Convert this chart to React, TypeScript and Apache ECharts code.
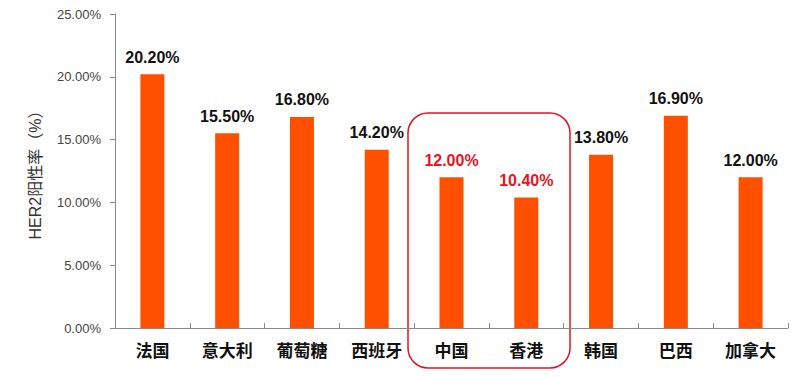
import React, { useEffect, useRef } from "react";
import * as echarts from "echarts";

const categories = ["法国", "意大利", "葡萄糖", "西班牙", "中国", "香港", "韩国", "巴西", "加拿大"];
const values = [20.2, 15.5, 16.8, 14.2, 12.0, 10.4, 13.8, 16.9, 12.0];
const highlighted = ["中国", "香港"];
const yTicks = [0, 5, 10, 15, 20, 25];

const FONT = "'Liberation Sans', 'Noto Sans CJK SC', sans-serif";

export default function App() {
  const ref = useRef<HTMLDivElement>(null);
  useEffect(() => {
    document.body.style.margin = "0";
    const chart = echarts.init(ref.current!, null, { renderer: "svg" });
    chart.setOption({
      animation: false,
      backgroundColor: "#ffffff",
      grid: { left: 115, right: 12, top: 14, bottom: 49 },
      xAxis: {
        type: "category",
        data: categories,
        axisLine: { lineStyle: { color: "#888888", width: 1 } },
        axisTick: { show: true, inside: true, length: 5, lineStyle: { color: "#888888" } },
        axisLabel: {
          color: "#111111",
          fontSize: 17,
          fontWeight: "bold",
          fontFamily: "'Noto Sans CJK SC', sans-serif",
          margin: 13,
        },
      },
      yAxis: {
        type: "value",
        min: yTicks[0],
        max: yTicks[yTicks.length - 1],
        interval: 5,
        name: "HER2阳性率（%）",
        nameLocation: "middle",
        nameGap: 72,
        nameRotate: 90,
        nameTextStyle: { color: "#333333", fontSize: 16, fontFamily: FONT },
        splitLine: { show: false },
        axisLine: { show: true, lineStyle: { color: "#888888", width: 1 } },
        axisTick: { show: true, inside: false, length: 5, lineStyle: { color: "#888888" } },
        axisLabel: {
          color: "#444444",
          fontSize: 13,
          fontFamily: FONT,
          margin: 14,
          formatter: (v: number) => v.toFixed(2) + "%",
        },
      },
      series: [
        {
          type: "bar",
          barWidth: 24,
          data: values.map((v, i) => {
            const hi = highlighted.includes(categories[i]);
            return {
              value: v,
              label: { color: hi ? "#e8141e" : "#111111" },
            };
          }),
          itemStyle: { color: "#ff5000" },
          label: {
            show: true,
            position: "top",
            distance: 9,
            fontSize: 16,
            fontWeight: "bold",
            fontFamily: FONT,
            formatter: (p: any) => Number(p.value).toFixed(2) + "%",
          },
        },
      ],
      graphic: [
        {
          type: "rect",
          shape: { x: 408, y: 113, width: 162, height: 255, r: 20 },
          style: { fill: "none", stroke: "#e0141e", lineWidth: 1.5 },
          silent: true,
        },
      ],
    });
    return () => chart.dispose();
  }, []);
  return <div ref={ref} style={{ width: 800, height: 377 }} />;
}
